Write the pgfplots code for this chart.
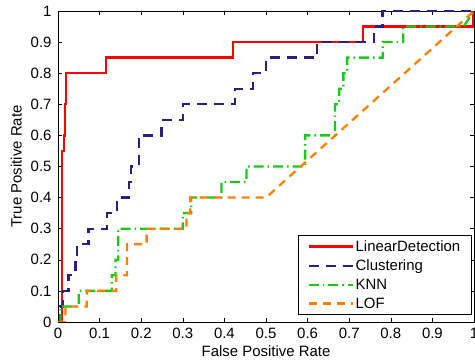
\documentclass[border=0pt]{standalone}
\usepackage{pgfplots}
\pgfplotsset{compat=1.18}
\usepackage{fontspec}
\setmainfont{Liberation Sans}
\definecolor{cred}{RGB}{255,0,0}
\definecolor{cblue}{RGB}{45,30,125}
\definecolor{cgreen}{RGB}{25,200,25}
\definecolor{corange}{RGB}{255,128,0}
\begin{document}
\begin{tikzpicture}
\begin{axis}[
  scale only axis,
  width=416bp, height=311bp,
  xmin=0, xmax=1, ymin=0, ymax=1,
  xtick={0,0.1,...,1.01}, ytick={0,0.1,...,1.01},
  xticklabels={0,0.1,0.2,0.3,0.4,0.5,0.6,0.7,0.8,0.9,1},
  yticklabels={0,0.1,0.2,0.3,0.4,0.5,0.6,0.7,0.8,0.9,1},
  tick align=inside, tick pos=both,
  major tick length=4bp,
  every tick/.style={black, line width=0.6pt},
  axis line style={line width=0.9pt},
  tick label style={font=\fontsize{15}{18}\selectfont},
  label style={font=\fontsize{15}{18}\selectfont},
  /pgf/number format/assume math mode=true,
  xticklabel style={yshift=-3bp},
  yticklabel style={xshift=-3bp},
  xlabel={False Positive Rate},
  ylabel={True Positive Rate},
  xlabel style={yshift=0bp},
  ylabel style={yshift=2bp},
  legend style={at={(0.9945,0.0225)}, anchor=south east,
    font=\fontsize{15}{18}\selectfont, draw=black, line width=0.8pt,
    inner xsep=9bp, inner ysep=3bp, row sep=3bp, cells={anchor=west}},
  legend image code/.code={\draw[#1] (0bp,0bp) -- (44bp,0bp);},
]
\addplot[cred, line width=2.3bp] coordinates {
(0,0) (0.01,0) (0.01,0.55) (0.015,0.55) (0.015,0.6) (0.017,0.6) (0.017,0.7)
(0.02,0.7) (0.02,0.8) (0.115,0.8) (0.115,0.85) (0.42,0.85) (0.42,0.9)
(0.733,0.9) (0.733,0.95) (0.998,0.95) (0.998,1)};
\addlegendentry{LinearDetection}
\addplot[cblue, line width=2.3bp, dash pattern=on 10bp off 7bp] coordinates {
(0,0) (0.005,0) (0.005,0.05) (0.012,0.05) (0.012,0.1) (0.025,0.1) (0.025,0.15)
(0.042,0.15) (0.042,0.2) (0.046,0.2) (0.046,0.25) (0.073,0.25) (0.073,0.3)
(0.117,0.3) (0.117,0.35) (0.141,0.35) (0.141,0.4) (0.171,0.4) (0.171,0.45)
(0.175,0.45) (0.175,0.5) (0.195,0.5) (0.195,0.6) (0.249,0.6) (0.249,0.65)
(0.30,0.65) (0.30,0.7) (0.425,0.7) (0.425,0.75) (0.469,0.75) (0.469,0.8)
(0.50,0.8) (0.50,0.85) (0.622,0.85) (0.622,0.9) (0.76,0.9) (0.76,0.95)
(0.78,0.95) (0.78,1) (1,1)};
\addlegendentry{Clustering}
\addplot[cgreen, line width=2.3bp, dash pattern=on 10bp off 4bp on 1.5bp off 4bp] coordinates {
(0,0) (0.006,0) (0.006,0.05) (0.05,0.05) (0.05,0.1) (0.129,0.1) (0.129,0.15)
(0.138,0.15) (0.138,0.2) (0.145,0.2) (0.145,0.3) (0.30,0.3) (0.30,0.35)
(0.32,0.35) (0.32,0.4) (0.393,0.4) (0.393,0.45) (0.453,0.45) (0.453,0.5)
(0.594,0.5) (0.594,0.6) (0.666,0.6) (0.666,0.7) (0.676,0.7) (0.676,0.75)
(0.686,0.75) (0.686,0.8) (0.695,0.8) (0.695,0.85) (0.781,0.85) (0.781,0.9)
(0.83,0.9) (0.83,0.95) (0.975,0.95) (1,1)};
\addlegendentry{KNN}
\addplot[corange, line width=2.3bp, dash pattern=on 8bp off 6bp] coordinates {
(0,0) (0.018,0) (0.018,0.05) (0.069,0.05) (0.069,0.1) (0.14,0.1) (0.14,0.15)
(0.166,0.15) (0.166,0.25) (0.213,0.25) (0.213,0.3) (0.309,0.3) (0.309,0.35)
(0.318,0.35) (0.318,0.4) (0.50,0.4) (1,1)};
\addlegendentry{LOF}
\end{axis}
\pgfresetboundingbox
\path ([shift={(-58bp,-38bp)}]current axis.south west) rectangle ([shift={(1bp,11bp)}]current axis.north east);
\end{tikzpicture}
\end{document}
